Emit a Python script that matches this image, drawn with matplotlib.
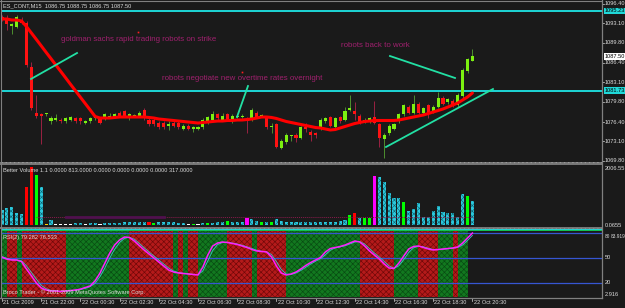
import matplotlib
matplotlib.use('Agg')
import matplotlib.pyplot as plt
from matplotlib.lines import Line2D
from matplotlib.patches import Rectangle
import matplotlib.transforms as mtrans
import numpy as np

plt.rcParams['hatch.linewidth'] = 0.45

# ---------------- data ----------------
title = "ES_CONT,M15  1086.75 1088.75 1086.75 1087.50"

opens = [1094.25, 1094.0, 1092.75, 1092.5, 1093.75, 1093.25, 1085.75, 1078.0, 1077.75, 1077.75,
         1076.5, 1076.75, 1076.75, 1076.5, 1076.75, 1077.0, 1077.0, 1076.25, 1076.5, 1077.0,
         1077.0, 1077.0, 1077.25, 1077.25, 1078.0, 1078.25, 1077.0, 1077.5, 1077.5, 1078.5,
         1076.75, 1076.75, 1076.25, 1076.25, 1075.75, 1076.25, 1076.25, 1075.25, 1075.75, 1075.25,
         1075.25, 1075.5, 1076.25, 1076.75, 1077.75, 1076.75, 1077.75, 1076.5, 1077.25, 1077.25,
         1076.75, 1076.75, 1078.0, 1077.5, 1077.25, 1075.5, 1076.0, 1072.0, 1073.0, 1074.0,
         1074.25, 1073.75, 1075.5, 1074.75, 1074.5, 1075.25, 1076.5, 1077.25, 1075.5, 1077.25,
         1076.75, 1078.5, 1078.25, 1077.5, 1076.5, 1076.5, 1077.25, 1076.0, 1073.5, 1074.5,
         1075.25, 1076.5, 1077.75, 1079.0, 1078.0, 1079.5, 1078.0, 1079.25, 1078.25, 1079.0,
         1080.5, 1079.75, 1080.0, 1079.25, 1080.75, 1085.0, 1086.75]
highs = [1094.5, 1094.5, 1093.25, 1094.5, 1094.25, 1093.5, 1086.5, 1081.0, 1078.0, 1078.0,
         1077.5, 1077.75, 1077.0, 1077.25, 1077.5, 1077.25, 1077.25, 1076.75, 1077.25, 1077.25,
         1077.25, 1078.0, 1078.0, 1078.0, 1078.25, 1078.5, 1078.0, 1077.75, 1078.25, 1078.75,
         1077.0, 1077.0, 1076.5, 1076.5, 1076.5, 1076.5, 1076.5, 1076.0, 1076.0, 1075.75,
         1075.75, 1077.0, 1077.5, 1078.25, 1078.0, 1078.0, 1078.0, 1077.75, 1077.75, 1077.75,
         1077.25, 1078.75, 1078.25, 1077.75, 1077.5, 1076.25, 1076.25, 1073.5, 1074.5, 1074.25,
         1074.5, 1075.75, 1076.25, 1075.0, 1074.75, 1077.0, 1077.25, 1077.5, 1077.25, 1077.5,
         1079.0, 1081.0, 1079.75, 1077.75, 1077.0, 1077.25, 1080.0, 1076.25, 1074.5, 1076.0,
         1076.25, 1078.0, 1079.5, 1079.25, 1081.0, 1079.75, 1079.0, 1079.5, 1079.25, 1081.5,
         1080.75, 1080.5, 1080.25, 1081.25, 1085.5, 1087.25, 1088.75]
lows = [1093.5, 1092.0, 1091.25, 1092.25, 1093.0, 1085.75, 1078.5, 1077.0, 1072.75, 1077.5,
        1076.0, 1076.5, 1076.25, 1076.25, 1076.5, 1076.25, 1076.0, 1076.0, 1076.25, 1076.75,
        1076.0, 1076.75, 1077.0, 1077.0, 1077.25, 1077.25, 1076.75, 1077.25, 1077.25, 1076.75,
        1075.75, 1075.75, 1075.25, 1075.25, 1075.0, 1075.5, 1075.25, 1075.0, 1075.0, 1074.75,
        1075.0, 1075.25, 1076.0, 1076.5, 1076.75, 1076.5, 1076.5, 1076.25, 1077.0, 1077.0,
        1074.5, 1076.5, 1077.0, 1077.25, 1075.25, 1074.5, 1072.0, 1071.75, 1072.75, 1073.25,
        1073.0, 1073.5, 1074.75, 1073.25, 1073.75, 1075.0, 1076.25, 1075.5, 1075.25, 1076.25,
        1076.5, 1078.25, 1076.75, 1076.0, 1076.25, 1076.25, 1076.0, 1072.25, 1070.25, 1074.25,
        1075.0, 1076.25, 1077.5, 1077.75, 1077.75, 1077.75, 1077.75, 1077.0, 1078.0, 1078.75,
        1079.25, 1079.5, 1079.0, 1079.0, 1080.5, 1084.75, 1086.75]
closes = [1093.75, 1093.0, 1093.0, 1094.25, 1093.25, 1086.0, 1078.75, 1077.5, 1077.5, 1077.75,
          1077.0, 1077.0, 1076.5, 1077.0, 1077.25, 1076.5, 1076.5, 1076.5, 1077.0, 1077.0,
          1076.25, 1077.75, 1077.5, 1077.75, 1077.5, 1077.5, 1077.75, 1077.5, 1078.0, 1077.0,
          1076.0, 1076.0, 1075.5, 1075.5, 1076.0, 1075.75, 1075.5, 1075.75, 1075.25, 1075.5,
          1075.5, 1076.75, 1077.25, 1077.75, 1077.0, 1077.5, 1076.75, 1077.5, 1077.5, 1077.5,
          1076.5, 1078.5, 1077.25, 1077.5, 1075.5, 1075.75, 1072.25, 1073.25, 1074.25, 1074.0,
          1073.75, 1075.5, 1075.25, 1074.25, 1074.25, 1076.75, 1077.0, 1075.75, 1077.0, 1076.5,
          1078.25, 1078.75, 1077.75, 1076.25, 1076.75, 1077.0, 1076.25, 1073.75, 1074.25, 1075.75,
          1076.0, 1077.75, 1079.25, 1078.0, 1079.5, 1078.0, 1078.75, 1078.0, 1079.0, 1080.5,
          1079.5, 1080.25, 1079.25, 1081.0, 1085.25, 1087.0, 1087.5]
ma_line = [1093.85, 1093.85, 1093.68, 1093.68, 1093.51, 1092.56, 1091.48, 1090.40, 1089.31, 1088.21,
           1087.13, 1086.04, 1084.96, 1083.87, 1082.77, 1081.69, 1080.60, 1079.52, 1078.44, 1077.34,
           1077.08, 1077.08, 1077.08, 1077.17, 1077.25, 1077.25, 1077.25, 1077.25, 1077.25, 1077.25,
           1077.17, 1077.08, 1076.91, 1076.83, 1076.74, 1076.66, 1076.57, 1076.49, 1076.40, 1076.32,
           1076.23, 1076.32, 1076.40, 1076.49, 1076.57, 1076.57, 1076.66, 1076.66, 1076.74, 1076.74,
           1076.83, 1076.91, 1077.08, 1077.25, 1077.25, 1077.17, 1077.00, 1076.74, 1076.49, 1076.32,
           1076.15, 1075.98, 1075.81, 1075.64, 1075.47, 1075.39, 1075.22, 1075.05, 1075.13, 1075.39,
           1075.64, 1075.90, 1076.15, 1076.32, 1076.49, 1076.57, 1076.66, 1076.66, 1076.66, 1076.66,
           1076.66, 1076.74, 1076.91, 1077.08, 1077.25, 1077.42, 1077.59, 1077.84, 1078.10, 1078.35,
           1078.61, 1078.94, 1079.28, 1079.62, 1080.13, 1080.64, 1081.32]

hlines = [1095.23, 1081.73]
current_price = 1087.50
price_ticks = [1096.40, 1093.10, 1089.80, 1086.40, 1083.10, 1079.80, 1076.40, 1073.10, 1069.80]

# trend lines: ((bar, price), (bar, price))
trend_lines = [((5.92, 1083.69), (15.31, 1088.09)),
               ((47.96, 1077.25), (50.2, 1082.5)),
               ((79.18, 1087.58), (92.45, 1083.86)),
               ((78.37, 1072.17), (100.2, 1081.99))]
notes = [("goldman sachs rapid trading robots on strike", 27.86, 1090.46),
         ("robots negotiate new overtime rates overnight", 49.08, 1083.69),
         ("robots back to work", 76.12, 1089.28)]
note_anchors = [(27.76, 1091.65), (48.98, 1084.87)]

volume = [520, 590, 620, 415, 380, 1315, 2006, 1730, 1315, 30,
          175, 30, 30, 30, 35, 60, 60, 30, 70, 70,
          30, 70, 80, 80, 80, 90, 90, 90, 100, 90,
          110, 70, 90, 90, 90, 90, 80, 85, 30, 35,
          30, 80, 60, 85, 90, 90, 140, 100, 100, 100,
          240, 200, 140, 100, 110, 100, 200, 140, 110, 120,
          110, 110, 100, 100, 110, 100, 110, 100, 110, 140,
          170, 350, 420, 240, 240, 240, 1700, 1660, 1490, 1110,
          930, 930, 800, 480, 550, 760, 280, 280, 480, 660,
          450, 415, 415, 280, 1070, 1000, 830]
vol_colors = ("cccccrrgcy" "cwwwwccwcc" "wccccccccc" "rgccccccwg" "wcgcccgccc"
              "mccgcgcccc" "cccccccccc" "cgrcggmccc" "ccgccccccc" "cccccgc")
vol_avg = 280
vol_title = "Better Volume 1.1 0.0000 813.0000 0.0000 0.0000 0.0000 0.0000 317.0000"

rsi = [50.5, 48, 47, 47, 45, 36, 28, 19.5, 13.5, 11,
       9.8, 9.8, 9.2, 9.8, 10.4, 11, 12, 14, 15.8, 22,
       31.4, 43.4, 55.4, 65, 71, 74.6, 74, 69.8, 64.4, 59,
       54.2, 49.4, 44.6, 39.8, 35, 32.6, 31.4, 30.8, 30.2, 29.6,
       29, 38.6, 53, 63.8, 67.4, 68.6, 68, 66.8, 65.6, 63.8,
       62, 59.6, 57.8, 57.2, 56.6, 50.6, 39.8, 31.4, 29, 30.2,
       32.6, 36.2, 40.4, 44, 47, 50, 56.6, 60.8, 62, 63.2,
       65, 67.4, 69.8, 68.6, 63.8, 57.8, 53, 48.2, 42.2, 37.4,
       36.8, 43.4, 51.8, 60.2, 63.2, 63.8, 62, 60.2, 59, 59.6,
       60.2, 60.8, 61.4, 62.6, 67.4, 73.4, 79.3]
rsi_signal = [51, 49, 47.5, 47, 46, 40, 32, 24, 16.5, 12.5,
              10.5, 10, 9.5, 9.5, 10, 10.7, 11.5, 13, 15, 19,
              27, 37.5, 49.5, 60, 68, 73, 74.3, 72, 67, 61.7,
              56.6, 51.8, 47, 42.2, 37.4, 33.8, 32, 31.1, 30.5, 29.9,
              29.3, 34, 45.8, 58.4, 65.6, 68, 68.3, 67.4, 66.2, 64.7,
              62.9, 60.8, 58.7, 57.5, 56.9, 53.6, 45.2, 35.6, 30.2, 29.6,
              31.4, 34.4, 38.3, 42.2, 45.5, 48.5, 53.3, 58.7, 61.4, 62.6,
              64.1, 66.2, 68.6, 69.2, 66.2, 60.8, 55.4, 50.6, 45.2, 39.8,
              37.1, 40.1, 47.6, 56, 61.7, 63.5, 62.9, 61.1, 59.6, 59.3,
              59.9, 60.5, 61.1, 62, 65, 70.4, 76.5]
rsi_zones = ("g" "rr" "g" "rrrrrrrrr" "ggggggggggggg" "rrrrrrrrr" "g" "r" "g" "rr"
             "gggggg" "rrrrr" "g" "rrrrrr" "ggggggggggggggg" "rrrrrrr" "ggggg" "rrrr"
             "ggg" "r" "gg")
rsi_levels = [80, 50, 20]
rsi_title = "RSI(2) 79.282 76.533"
copyright_txt = "Broco Trader - \u00a9 2001-2009 MetaQuotes Software Corp."

time_labels = ["21 Oct 2009", "21 Oct 22:00", "22 Oct 00:30", "22 Oct 02:30", "22 Oct 04:30",
               "22 Oct 06:30", "22 Oct 08:30", "22 Oct 10:30", "22 Oct 12:30", "22 Oct 14:30",
               "22 Oct 16:30", "22 Oct 18:30", "22 Oct 20:30"]
time_label_bars = [0, 8, 16, 24, 32, 40, 48, 56, 64, 72, 80, 88, 96]

# ---------------- layout ----------------
W, H = 625, 308
BG = '#1a1a1a'
GREY = '#808080'
TXT = '#dcdcdc'
FONT = 'Liberation Sans'
FS = 4.1
X0_PX, BAR_PX = 2.0, 4.9
XL = ((1 - X0_PX) / BAR_PX, (602 - X0_PX) / BAR_PX)

fig = plt.figure(figsize=(6.25, 3.08), dpi=100, facecolor=BG)


def fx(px):
    return px / W


def fy(py):
    return 1 - py / H


def add_ax(x0, y0, x1, y1):
    ax = fig.add_axes([fx(x0), fy(y1), fx(x1) - fx(x0), fy(y0) - fy(y1)])
    ax.set_facecolor(BG)
    for s in ax.spines.values():
        s.set_visible(False)
    ax.set_xticks([])
    ax.set_yticks([])
    ax.set_xlim(*XL)
    return ax


idx = np.arange(len(closes))

# ---- main price panel ----
axm = add_ax(1, 0, 602, 162)
axm.set_ylim(1097.07 - 0.1694 * 162, 1097.07)
for yv in hlines:
    axm.axhline(yv, color='#1ed6d6', lw=1.4, zorder=1)
for i in idx:
    o, h, l, c = opens[i], highs[i], lows[i], closes[i]
    bull = c >= o
    axm.vlines(i, l, h, color='#4d8f2f' if bull else '#9a2242', lw=0.7, zorder=2)
    axm.bar(i, max(abs(c - o), 0.17), bottom=min(o, c), width=0.62,
            color='#7cf010' if bull else '#ff1212', lw=0, zorder=3)
axm.plot(idx, ma_line, color='#ff0000', lw=2.2, solid_capstyle='round', zorder=4)
for (xa, ya), (xb, yb) in trend_lines:
    axm.plot([xa, xb], [ya, yb], color='#22e0a4', lw=1.3, zorder=5)
for txt, xb, yb in notes:
    axm.text(xb, yb, txt, color='#a0206e', fontsize=5.7, family=FONT,
             ha='center', va='center', zorder=6)
for xb, yb in note_anchors:
    axm.plot([xb], [yb], 's', color='#ff2020', ms=1.2, mew=0, zorder=6)

tr_m = mtrans.blended_transform_factory(fig.transFigure, axm.transData)
for p in price_ticks:
    axm.text(fx(605), p, f"{p:.2f}", transform=tr_m, fontsize=FS, family=FONT,
             color=TXT, va='center', ha='left', clip_on=False)
    axm.add_line(Line2D([fx(602), fx(604)], [p, p], transform=tr_m, color=TXT, lw=0.5, clip_on=False))
for yv in hlines:
    axm.text(fx(605), yv, f"{yv:.2f}", transform=tr_m, fontsize=FS, family=FONT,
             color='black', va='center', ha='left', clip_on=False,
             bbox=dict(boxstyle='square,pad=0.12', fc='#20d8d8', ec='none'))
axm.text(fx(605), current_price, f"{current_price:.2f}", transform=tr_m, fontsize=FS,
         family=FONT, color='black', va='center', ha='left', clip_on=False,
         bbox=dict(boxstyle='square,pad=0.12', fc='white', ec='none'))
fig.text(fx(3), fy(6), title, fontsize=FS, family=FONT, color=TXT, va='center', ha='left')

# ---- volume panel ----
axv = add_ax(1, 165, 602, 227)
axv.set_ylim(-69, 2076)
cmap = {'c': '#2cc8dc', 'r': '#ff0000', 'g': '#00ff00', 'm': '#ff00ff', 'w': '#ffffff', 'y': '#ffd000'}
for i in idx:
    col = vol_colors[i]
    if col == 'c':
        axv.bar(i, volume[i], width=0.62, color=cmap[col], edgecolor='#0e6878', lw=0,
                hatch='xxxxxx', zorder=2)
    else:
        axv.bar(i, volume[i], width=0.62, color=cmap[col], lw=0, zorder=2)
axv.plot([7, 96], [vol_avg, vol_avg], color='#8a1a4c', lw=0.7, ls=(0, (1, 1)), zorder=3)
axv.plot([13, 33], [vol_avg, vol_avg], color='#50104e', lw=2.0, zorder=3)
axv.text(0.3, 1900, vol_title, fontsize=FS, family=FONT, color=TXT, va='center', ha='left')
tr_v = mtrans.blended_transform_factory(fig.transFigure, axv.transData)
axv.text(fx(605), 1960, "2006.55", transform=tr_v, fontsize=FS, family=FONT,
         color=TXT, va='center', ha='left', clip_on=False)
axv.text(fx(605), 0, "0.0655", transform=tr_v, fontsize=FS, family=FONT,
         color=TXT, va='center', ha='left', clip_on=False)

# ---- RSI panel ----
axr = add_ax(1, 231, 602, 297)
ylo, yhi = 2.6, 81.8
axr.set_ylim(ylo, yhi)
zone_col = {'r': ('#b41a1a', '#6e0808'), 'g': ('#12781f', '#084a12')}
for k, z in enumerate(rsi_zones):
    fc, hc = zone_col[z]
    axr.bar(k + 0.5, yhi - ylo, bottom=ylo, width=1.02, color=fc, edgecolor=hc,
            lw=0, hatch='xxxxxx', zorder=1)
for lv in rsi_levels:
    axr.axhline(lv, color='#3656d2', lw=0.9, zorder=2)
axr.plot(idx, rsi_signal, color='#3cc0c8', lw=0.6, zorder=3)
axr.plot(idx, rsi, color='#ff20ff', lw=1.1, zorder=4)
axr.text(0.3, 74.5, rsi_title, fontsize=FS, family=FONT, color=TXT, va='center', ha='left', zorder=5)
axr.text(0.3, 8.5, copyright_txt, fontsize=FS, family=FONT, color=TXT, va='center', ha='left', zorder=5)
tr_r = mtrans.blended_transform_factory(fig.transFigure, axr.transData)
for lv in rsi_levels[1:]:
    axr.text(fx(605), lv, f"{lv}", transform=tr_r, fontsize=FS, family=FONT,
             color=TXT, va='center', ha='left', clip_on=False)
axr.text(fx(605), 78.6, "80", transform=tr_r, fontsize=3.4, family=FONT,
         color=TXT, va='top', ha='left', clip_on=False)
axr.text(fx(611), 78.6, "83.919", transform=tr_r, fontsize=3.4, family=FONT,
         color=TXT, va='top', ha='left', clip_on=False)
axr.text(fx(605), 5.0, "2.916", transform=tr_r, fontsize=FS, family=FONT,
         color=TXT, va='center', ha='left', clip_on=False)

# ---- separators / frame ----
for y0, y1 in [(162, 165), (227, 228.5)]:
    fig.patches.append(Rectangle((fx(0), fy(y1)), fx(602), fy(y0) - fy(y1),
                                 transform=fig.transFigure, fc='#767676', ec='#9a9a9a',
                                 lw=0, hatch='....'))
fig.lines.append(Line2D([fx(1), fx(602)], [fy(229.3), fy(229.3)], transform=fig.transFigure,
                        color='#20d8d8', lw=0.7))
fig.lines.append(Line2D([fx(1), fx(602)], [fy(230.4), fy(230.4)], transform=fig.transFigure,
                        color='#10e060', lw=0.6))
fig.lines.append(Line2D([fx(602), fx(602)], [fy(0), fy(298)], transform=fig.transFigure,
                        color=GREY, lw=0.9))
fig.lines.append(Line2D([fx(0), fx(602)], [fy(298), fy(298)], transform=fig.transFigure,
                        color=GREY, lw=0.9))
fig.lines.append(Line2D([fx(0), fx(602)], [fy(0.5), fy(0.5)], transform=fig.transFigure,
                        color=GREY, lw=0.8))
fig.lines.append(Line2D([fx(0.5), fx(0.5)], [fy(0), fy(298)], transform=fig.transFigure,
                        color=GREY, lw=0.8))

# ---- time axis ----
tr_t = mtrans.blended_transform_factory(axr.transData, fig.transFigure)
for lab, b in zip(time_labels, time_label_bars):
    axr.add_line(Line2D([b, b], [fy(298), fy(301)], transform=tr_t, color=TXT, lw=0.5, clip_on=False))
    axr.text(b + 0.25, fy(302.5), lab, transform=tr_t, fontsize=FS, family=FONT,
             color=TXT, va='center', ha='left', clip_on=False)

fig.savefig('out.png', dpi=100, facecolor=BG)
